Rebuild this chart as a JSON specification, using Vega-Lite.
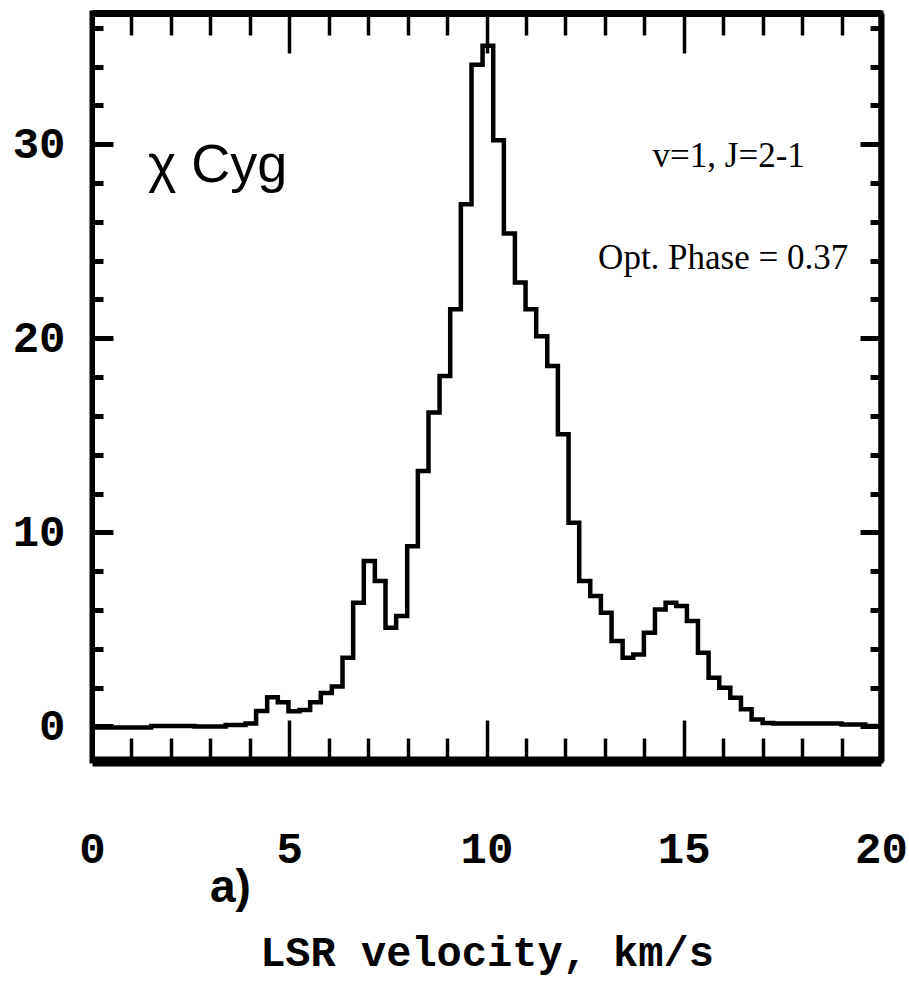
{
  "$schema": "https://vega.github.io/schema/vega-lite/v6.json",
  "width": 789,
  "height": 748,
  "autosize": {"type": "none"},
  "padding": {"left": 92, "top": 13, "right": 28, "bottom": 229},
  "background": "white",
  "config": {"view": {"stroke": "black", "strokeWidth": 5}, "axis": {"grid": false}},
  "datasets": {
    "spectrum": [
      {"v": 0.0, "T": -0.05},
      {"v": 1.5, "T": 0.02},
      {"v": 2.6, "T": 0.0},
      {"v": 3.39, "T": 0.08},
      {"v": 3.89, "T": 0.15},
      {"v": 4.16, "T": 0.8},
      {"v": 4.44, "T": 1.5},
      {"v": 4.71, "T": 1.25},
      {"v": 4.98, "T": 0.78},
      {"v": 5.26, "T": 0.85},
      {"v": 5.53, "T": 1.25},
      {"v": 5.8, "T": 1.72},
      {"v": 6.08, "T": 2.06},
      {"v": 6.35, "T": 3.54},
      {"v": 6.62, "T": 6.37},
      {"v": 6.89, "T": 8.52},
      {"v": 7.17, "T": 7.49},
      {"v": 7.44, "T": 5.09},
      {"v": 7.71, "T": 5.69},
      {"v": 7.99, "T": 9.29},
      {"v": 8.26, "T": 13.16},
      {"v": 8.53, "T": 16.17},
      {"v": 8.81, "T": 18.06},
      {"v": 9.08, "T": 21.5},
      {"v": 9.35, "T": 26.9},
      {"v": 9.62, "T": 34.1},
      {"v": 9.9, "T": 35.07},
      {"v": 10.17, "T": 30.2},
      {"v": 10.44, "T": 25.4},
      {"v": 10.72, "T": 22.87},
      {"v": 10.99, "T": 21.5},
      {"v": 11.26, "T": 20.1},
      {"v": 11.54, "T": 18.57},
      {"v": 11.81, "T": 15.05},
      {"v": 12.08, "T": 10.5},
      {"v": 12.35, "T": 7.49},
      {"v": 12.63, "T": 6.72},
      {"v": 12.9, "T": 5.86},
      {"v": 13.17, "T": 4.4},
      {"v": 13.45, "T": 3.54},
      {"v": 13.72, "T": 3.71},
      {"v": 13.99, "T": 4.83},
      {"v": 14.27, "T": 6.03},
      {"v": 14.54, "T": 6.37},
      {"v": 14.81, "T": 6.2},
      {"v": 15.08, "T": 5.43},
      {"v": 15.36, "T": 3.8},
      {"v": 15.63, "T": 2.51},
      {"v": 15.9, "T": 2.0},
      {"v": 16.18, "T": 1.48},
      {"v": 16.45, "T": 0.88},
      {"v": 16.72, "T": 0.36},
      {"v": 17.0, "T": 0.18},
      {"v": 17.27, "T": 0.15},
      {"v": 19.0, "T": 0.1},
      {"v": 19.6, "T": 0.02},
      {"v": 20.0, "T": 0.02}
    ]
  },
  "resolve": {"axis": {"x": "independent", "y": "independent"}},
  "layer": [
    {
      "data": {"name": "spectrum"},
      "mark": {"type": "line", "interpolate": "step-after", "color": "black", "strokeWidth": 4.5, "strokeJoin": "miter"},
      "encoding": {
        "x": {
          "field": "v", "type": "quantitative",
          "scale": {"domain": [0, 20], "nice": false, "zero": false},
          "axis": {
            "orient": "bottom",
            "values": [0,1,2,3,4,5,6,7,8,9,10,11,12,13,14,15,16,17,18,19,20],
            "labelExpr": "datum.value % 5 === 0 ? datum.label : ''",
            "tickSize": {"condition": {"test": "datum.value % 5 === 0", "value": -41}, "value": -23},
            "tickWidth": 3.5, "tickColor": "black",
            "domainColor": "black", "domainWidth": 10,
            "labelFont": "Liberation Mono", "labelFontWeight": "bold", "labelFontSize": 44, "labelColor": "black",
            "labelBaseline": "alphabetic", "labelPadding": 142,
            "labelFlush": false, "labelOverlap": false, "labelBound": false,
            "title": "LSR velocity, km/s",
            "titleFont": "Liberation Mono", "titleFontWeight": "bold", "titleFontSize": 42, "titleColor": "black",
            "titleBaseline": "alphabetic", "titleY": 204
          }
        },
        "y": {
          "field": "T", "type": "quantitative",
          "scale": {"domain": [-1.78, 36.76], "nice": false, "zero": false},
          "axis": {
            "orient": "left",
            "values": [0,2,4,6,8,10,12,14,16,18,20,22,24,26,28,30,32,34,36],
            "labelExpr": "datum.value % 10 === 0 ? datum.label : ''",
            "tickSize": {"condition": {"test": "datum.value % 10 === 0", "value": -21}, "value": -11},
            "tickWidth": 5, "tickColor": "black",
            "domainColor": "black", "domainWidth": 5,
            "labelFont": "Liberation Mono", "labelFontWeight": "bold", "labelFontSize": 44, "labelColor": "black",
            "labelPadding": 48, "labelOverlap": false, "labelBound": false, "labelFlush": false,
            "title": null
          }
        }
      }
    },
    {
      "data": {"name": "spectrum"},
      "mark": {"type": "line", "interpolate": "step-after", "opacity": 0},
      "encoding": {
        "x": {
          "field": "v", "type": "quantitative",
          "axis": {
            "orient": "top",
            "values": [0,1,2,3,4,5,6,7,8,9,10,11,12,13,14,15,16,17,18,19,20],
            "labels": false,
            "tickSize": {"condition": {"test": "datum.value % 5 === 0", "value": -40}, "value": -22},
            "tickWidth": 3.5, "tickColor": "black",
            "domainColor": "black", "domainWidth": 7,
            "title": null
          }
        },
        "y": {
          "field": "T", "type": "quantitative",
          "axis": {
            "orient": "right",
            "values": [0,2,4,6,8,10,12,14,16,18,20,22,24,26,28,30,32,34,36],
            "labels": false,
            "tickSize": {"condition": {"test": "datum.value % 10 === 0", "value": -21}, "value": -11},
            "tickWidth": 5, "tickColor": "black",
            "domainColor": "black", "domainWidth": 6,
            "title": null
          }
        }
      }
    },
    {
      "data": {"values": [{"v": 1.42, "T": 28.04, "label": "χ Cyg"}]},
      "mark": {"type": "text", "font": "Liberation Sans", "fontSize": 54, "align": "left", "baseline": "alphabetic", "color": "black"},
      "encoding": {
        "x": {"field": "v", "type": "quantitative", "axis": null},
        "y": {"field": "T", "type": "quantitative", "axis": null},
        "text": {"field": "label"}
      }
    },
    {
      "data": {"values": [{"v": 16.14, "T": 28.8, "label": "v=1, J=2-1"}, {"v": 16.0, "T": 23.56, "label": "Opt. Phase = 0.37"}]},
      "mark": {"type": "text", "font": "Liberation Serif", "fontSize": 35, "align": "center", "baseline": "alphabetic", "color": "black"},
      "encoding": {
        "x": {"field": "v", "type": "quantitative", "axis": null},
        "y": {"field": "T", "type": "quantitative", "axis": null},
        "text": {"field": "label"}
      }
    },
    {
      "data": {"values": [{"v": 2.99, "T": -9.07, "label": "a)"}]},
      "mark": {"type": "text", "font": "Liberation Sans", "fontWeight": "bold", "fontSize": 46, "align": "left", "baseline": "alphabetic", "color": "black"},
      "encoding": {
        "x": {"field": "v", "type": "quantitative", "axis": null},
        "y": {"field": "T", "type": "quantitative", "axis": null},
        "text": {"field": "label"}
      }
    }
  ]
}
